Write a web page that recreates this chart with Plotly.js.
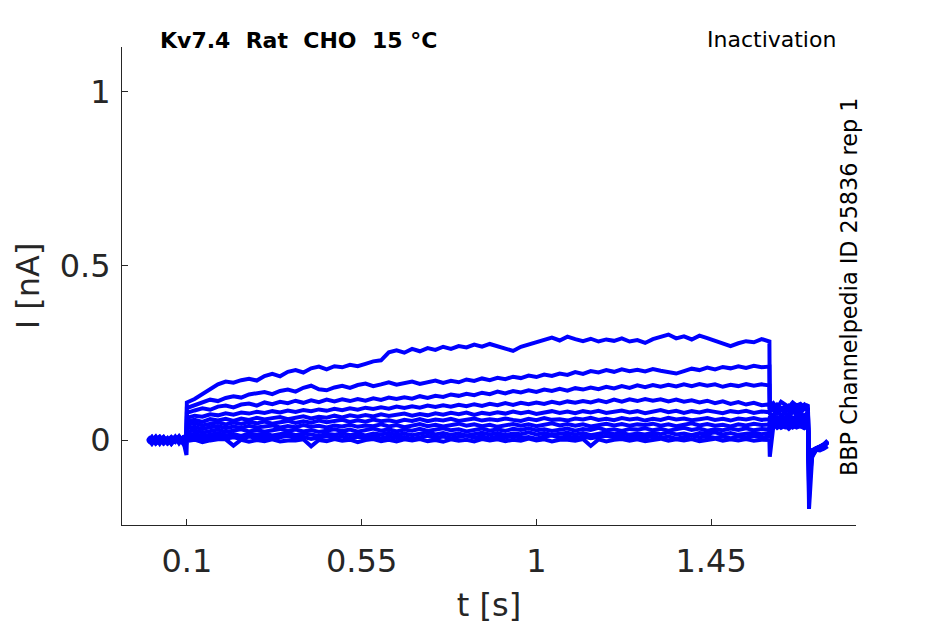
<!DOCTYPE html>
<html>
<head>
<meta charset="utf-8">
<script src="https://cdn.plot.ly/plotly-3.0.1.min.js"></script>
<style>
  html, body { margin: 0; padding: 0; background: #ffffff; }
  #chart { width: 945px; height: 624px; }
</style>
</head>
<body>
<div id="chart"></div>
<script>
// ---------- sample times [s] ----------
const tPre  = [0.000,0.010,0.020,0.030,0.040,0.050,0.060,0.070,0.080,0.090,0.099];
const tStep = [0.10,0.12,0.14,0.16,0.18,0.20,0.22,0.24,0.26,0.28,
               0.30,0.32,0.34,0.36,0.38,0.40,0.42,0.44,0.46,0.48,
               0.50,0.52,0.54,0.56,0.58,0.60,0.62,0.64,0.66,0.68,
               0.70,0.72,0.74,0.76,0.78,0.80,0.82,0.84,0.86,0.88,
               0.90,0.92,0.94,0.96,0.98,1.00,1.02,1.04,1.06,1.08,
               1.10,1.12,1.14,1.16,1.18,1.20,1.22,1.24,1.26,1.28,
               1.30,1.32,1.34,1.36,1.38,1.40,1.42,1.44,1.46,1.48,
               1.50,1.52,1.54,1.56,1.58,1.60];
const tPost = [1.601,1.610,1.620,1.630,1.640,1.650,1.660,1.670,1.680,1.690,1.699];
const tTail = [1.700,1.702,1.705,1.710,1.720,1.730,1.740,1.750];

// ---------- current sweeps [nA] : pre | step | post | tail ----------
const sweep1 = [
  0.006,-0.009,0.003,0.010,-0.005,0.002,-0.011,0.004,0.008,-0.003,0.001,
  0.108,0.118,0.132,0.146,0.160,0.168,0.165,0.172,0.176,0.171,
  0.184,0.190,0.183,0.196,0.201,0.194,0.206,0.211,0.203,0.212,
  0.209,0.216,0.212,0.219,0.226,0.229,0.252,0.258,0.251,0.262,
  0.255,0.264,0.259,0.268,0.262,0.270,0.266,0.274,0.268,0.276,
  0.270,0.262,0.256,0.268,0.275,0.281,0.288,0.294,0.286,0.297,
  0.290,0.284,0.291,0.283,0.289,0.285,0.292,0.283,0.287,0.279,
  0.290,0.296,0.303,0.292,0.298,0.289,0.300,0.293,0.286,0.279,
  0.270,0.278,0.284,0.281,0.290,0.283,
  0.098,0.106,0.092,0.110,0.101,0.095,0.108,0.099,0.104,0.093,0.102,
  0.060,-0.198,-0.120,-0.050,-0.028,-0.022,-0.016,-0.006];
const sweep2 = [
  -0.004,0.008,-0.010,0.001,0.009,-0.006,0.003,-0.001,0.011,-0.007,0.000,
  0.092,0.101,0.108,0.116,0.112,0.121,0.126,0.122,0.131,0.135,
  0.138,0.132,0.141,0.145,0.139,0.150,0.156,0.146,0.143,0.151,
  0.156,0.150,0.158,0.162,0.155,0.160,0.166,0.159,0.163,0.168,
  0.161,0.167,0.171,0.164,0.170,0.166,0.174,0.170,0.177,0.172,
  0.179,0.175,0.182,0.178,0.185,0.181,0.188,0.184,0.191,0.187,
  0.195,0.190,0.198,0.194,0.201,0.196,0.203,0.198,0.202,0.197,
  0.204,0.199,0.195,0.191,0.198,0.205,0.201,0.208,0.203,0.210,
  0.206,0.212,0.207,0.213,0.209,0.211,
  0.092,0.085,0.101,0.090,0.096,0.083,0.099,0.088,0.094,0.102,0.089,
  0.050,-0.170,-0.100,-0.045,-0.030,-0.024,-0.018,-0.008];
const sweep3 = [
  0.003,-0.011,0.005,-0.002,0.008,-0.008,0.000,0.007,-0.006,0.004,-0.002,
  0.078,0.085,0.091,0.087,0.096,0.099,0.094,0.102,0.105,0.099,
  0.108,0.103,0.110,0.106,0.113,0.107,0.114,0.109,0.116,0.111,
  0.117,0.112,0.118,0.113,0.120,0.115,0.122,0.118,0.123,0.119,
  0.126,0.121,0.127,0.124,0.131,0.127,0.133,0.129,0.136,0.132,
  0.139,0.134,0.141,0.137,0.143,0.138,0.145,0.141,0.147,0.142,
  0.149,0.145,0.151,0.146,0.153,0.148,0.155,0.150,0.157,0.152,
  0.158,0.153,0.159,0.154,0.160,0.155,0.161,0.156,0.160,0.153,
  0.159,0.155,0.161,0.156,0.160,0.157,
  0.087,0.095,0.080,0.092,0.084,0.098,0.086,0.090,0.081,0.094,0.088,
  0.045,-0.150,-0.085,-0.040,-0.026,-0.020,-0.012,-0.004];
const sweep4 = [
  0.007,-0.003,0.010,-0.007,0.001,-0.010,0.005,-0.001,0.009,-0.005,0.002,
  0.064,0.070,0.067,0.074,0.071,0.077,0.073,0.079,0.076,0.081,
  0.078,0.083,0.079,0.085,0.081,0.086,0.083,0.088,0.084,0.090,
  0.086,0.091,0.087,0.093,0.089,0.094,0.090,0.096,0.092,0.097,
  0.093,0.099,0.095,0.100,0.096,0.101,0.097,0.103,0.098,0.104,
  0.100,0.106,0.101,0.107,0.103,0.108,0.104,0.110,0.105,0.111,
  0.107,0.112,0.108,0.114,0.109,0.116,0.110,0.117,0.112,0.118,
  0.113,0.117,0.111,0.116,0.110,0.114,0.108,0.113,0.106,0.111,
  0.104,0.109,0.102,0.107,0.100,0.103,
  0.082,0.090,0.076,0.088,0.079,0.093,0.081,0.086,0.077,0.091,0.084,
  0.040,-0.130,-0.075,-0.038,-0.025,-0.021,-0.014,-0.003];
const sweep5 = [
  -0.009,0.002,-0.004,0.009,-0.001,0.004,-0.011,0.003,-0.004,0.007,-0.001,
  0.054,0.058,0.052,0.060,0.056,0.061,0.055,0.062,0.058,0.064,
  0.059,0.063,0.066,0.060,0.065,0.068,0.062,0.067,0.064,0.070,
  0.065,0.071,0.067,0.072,0.068,0.074,0.069,0.073,0.076,0.070,
  0.075,0.071,0.077,0.073,0.078,0.074,0.079,0.072,0.078,0.075,
  0.080,0.076,0.082,0.077,0.081,0.075,0.080,0.083,0.078,0.082,
  0.077,0.083,0.079,0.084,0.078,0.081,0.085,0.079,0.083,0.077,
  0.082,0.086,0.080,0.084,0.078,0.083,0.079,0.085,0.081,0.077,
  0.083,0.080,0.084,0.078,0.082,0.080,
  0.076,0.070,0.083,0.072,0.079,0.068,0.081,0.074,0.077,0.069,0.080,
  0.038,-0.120,-0.070,-0.036,-0.027,-0.023,-0.017,-0.006];
const sweep6 = [
  0.001,-0.007,0.009,-0.002,-0.010,0.004,0.001,-0.006,0.010,-0.001,0.003,
  0.044,0.049,0.042,0.047,0.051,0.045,0.050,0.046,0.052,0.048,
  0.053,0.047,0.051,0.055,0.049,0.054,0.050,0.056,0.051,0.054,
  0.058,0.052,0.057,0.053,0.059,0.054,0.057,0.052,0.058,0.055,
  0.060,0.054,0.059,0.056,0.061,0.055,0.058,0.062,0.056,0.060,
  0.057,0.062,0.058,0.055,0.061,0.057,0.063,0.058,0.060,0.056,
  0.062,0.059,0.064,0.058,0.061,0.057,0.063,0.059,0.062,0.056,
  0.061,0.058,0.064,0.059,0.062,0.057,0.060,0.063,0.058,0.061,
  0.056,0.062,0.059,0.063,0.058,0.060,
  0.066,0.073,0.061,0.070,0.064,0.075,0.062,0.069,0.065,0.071,0.063,
  0.035,-0.100,-0.062,-0.034,-0.024,-0.019,-0.013,-0.002];
const sweep7 = [
  -0.003,0.009,-0.006,0.004,-0.001,-0.009,0.007,-0.004,0.000,0.008,-0.006,
  0.034,0.038,0.031,0.037,0.040,0.034,0.039,0.035,0.041,0.036,
  0.039,0.042,0.036,0.040,0.037,0.043,0.038,0.041,0.036,0.042,
  0.039,0.044,0.038,0.042,0.040,0.045,0.039,0.043,0.037,0.042,
  0.046,0.040,0.044,0.039,0.043,0.047,0.041,0.045,0.040,0.044,
  0.038,0.043,0.046,0.041,0.045,0.040,0.044,0.048,0.042,0.046,
  0.041,0.045,0.039,0.044,0.047,0.042,0.046,0.041,0.045,0.043,
  0.047,0.041,0.045,0.040,0.044,0.048,0.042,0.046,0.041,0.044,
  0.039,0.045,0.042,0.047,0.043,0.045,
  0.058,0.064,0.052,0.061,0.055,0.066,0.054,0.060,0.057,0.063,0.056,
  0.030,-0.090,-0.058,-0.032,-0.026,-0.022,-0.015,-0.005];
const sweep8 = [
  0.009,-0.001,0.004,-0.011,0.006,0.000,-0.004,0.010,-0.007,0.001,-0.004,
  0.024,0.028,0.021,0.026,0.030,0.023,0.027,0.031,0.025,0.029,
  0.024,0.028,0.032,0.026,0.030,0.025,0.029,0.023,0.028,0.031,
  0.026,0.030,0.024,0.029,0.033,0.027,0.031,0.025,0.030,0.027,
  0.032,0.026,0.030,0.034,0.028,0.031,0.025,0.030,0.033,0.027,
  0.031,0.026,0.032,0.029,0.034,0.028,0.031,0.026,0.030,0.033,
  0.027,0.032,0.029,0.035,0.028,0.031,0.026,0.032,0.030,0.034,
  0.028,0.032,0.027,0.031,0.035,0.029,0.033,0.027,0.031,0.028,
  0.033,0.029,0.034,0.028,0.032,0.030,
  0.050,0.056,0.045,0.053,0.047,0.058,0.046,0.052,0.049,0.055,0.048,
  0.028,-0.080,-0.055,-0.031,-0.023,-0.020,-0.014,-0.004];
const sweep9 = [
  -0.007,0.004,0.000,0.007,-0.009,0.002,0.009,-0.003,0.004,-0.010,0.005,
  0.014,0.018,0.011,0.016,0.020,0.013,0.017,0.012,0.019,0.015,
  0.018,0.013,0.017,0.021,0.014,0.019,0.016,0.012,0.018,0.015,
  0.020,0.014,0.018,0.013,0.019,0.016,0.021,0.015,0.019,0.014,
  0.018,0.022,0.016,0.020,0.015,0.019,0.013,0.018,0.021,0.016,
  0.020,0.014,0.019,0.017,0.022,0.016,0.020,0.015,0.018,0.021,
  0.016,0.020,0.014,0.019,0.022,0.017,0.021,0.015,0.019,0.016,
  0.021,0.017,0.022,0.016,0.019,0.014,0.020,0.018,0.022,0.016,
  0.020,0.015,0.019,0.021,0.017,0.020,
  0.046,0.040,0.051,0.043,0.048,0.038,0.050,0.042,0.047,0.039,0.045,
  0.025,-0.075,-0.052,-0.030,-0.025,-0.021,-0.016,-0.007];
const sweep10 = [
  0.004,-0.006,0.007,-0.001,0.006,-0.008,0.002,0.009,-0.009,0.005,-0.002,
  0.005,0.009,0.002,0.007,0.011,0.004,0.008,0.003,0.010,0.006,
  0.009,0.004,0.008,0.012,0.005,0.009,0.003,0.008,0.011,0.006,
  0.010,0.004,0.009,0.007,0.012,0.005,0.010,0.006,0.009,0.003,
  0.008,0.012,0.006,0.010,0.005,0.009,0.013,0.007,0.011,0.005,
  0.010,0.007,0.012,0.006,0.009,0.004,0.010,0.013,0.007,0.011,
  0.006,0.010,0.005,0.009,0.012,0.008,0.011,0.005,0.010,0.007,
  0.012,0.006,0.010,0.004,0.009,0.013,0.008,0.011,0.006,0.010,
  0.005,0.011,0.008,0.012,0.007,0.010,
  0.040,0.046,0.035,0.043,0.037,0.048,0.036,0.042,0.039,0.045,0.038,
  0.022,-0.072,-0.050,-0.029,-0.024,-0.019,-0.013,-0.002];
const sweep11 = [
  -0.006,0.004,-0.010,0.000,-0.004,0.006,-0.009,0.001,-0.003,0.002,-0.043,
  -0.003,0.001,-0.006,-0.001,0.002,0.002,-0.016,0.001,-0.005,0.000,
  -0.003,0.002,-0.004,-0.001,-0.001,0.002,-0.018,0.000,-0.003,0.003,
  -0.002,0.001,-0.006,0.000,0.003,-0.003,0.001,-0.004,0.002,-0.001,
  0.003,-0.003,0.000,-0.005,0.002,-0.002,0.001,-0.004,0.003,-0.001,
  0.002,-0.003,0.001,-0.002,0.004,-0.001,0.002,-0.004,0.001,0.001,
  -0.002,0.003,-0.017,0.002,-0.004,0.001,0.003,-0.002,0.002,-0.003,
  0.001,0.004,-0.002,0.002,-0.001,0.003,-0.003,0.001,0.004,-0.002,
  0.002,-0.001,0.003,-0.002,0.001,0.000,
  -0.048,0.038,0.044,0.035,0.041,0.032,0.043,0.036,0.040,0.034,0.039,
  0.020,-0.070,-0.050,-0.030,-0.028,-0.030,-0.025,-0.018];

// ---------- tick labels & texts ----------
const xTickVals = [0.1, 0.55, 1, 1.45];
const xTickText = ["0.1", "0.55", "1", "1.45"];
const yTickVals = [0, 0.5, 1];
const yTickText = ["0", "0.5", "1"];
const titleText = "<b>Kv7.4\u00a0\u00a0Rat\u00a0\u00a0CHO\u00a0\u00a015\u00a0°C</b>";
const protocolText = "Inactivation";
const sideText = "BBP Channelpedia ID 25836 rep 1";

const time = tPre.concat(tStep, tPost, tTail);
const sweeps = [sweep1, sweep2, sweep3, sweep4, sweep5, sweep6,
                sweep7, sweep8, sweep9, sweep10, sweep11];

const data = sweeps.map(function (s) {
  return {
    x: time, y: s, type: "scatter", mode: "lines",
    line: { color: "#0000ff", width: 4 },
    hoverinfo: "skip", showlegend: false
  };
});

const FONT = "DejaVu Sans, Liberation Sans, sans-serif";
const INK = "#262626";

const layout = {
  width: 945, height: 624,
  margin: { l: 122, r: 89, t: 47, b: 99, pad: 0 },
  paper_bgcolor: "#ffffff", plot_bgcolor: "#ffffff",
  font: { family: FONT, color: INK },
  showlegend: false,
  xaxis: {
    range: [-0.067, 1.823],
    tickmode: "array", tickvals: xTickVals, ticktext: xTickText,
    ticks: "inside", ticklen: 6, tickwidth: 1, tickcolor: INK,
    showline: true, linecolor: INK, linewidth: 1, mirror: false,
    showgrid: false, zeroline: false, ticklabelstandoff: 8,
    tickfont: { family: FONT, size: 32, color: INK },
    title: { text: "t [s]", font: { family: FONT, size: 32, color: INK }, standoff: 14 }
  },
  yaxis: {
    range: [-0.244, 1.129],
    tickmode: "array", tickvals: yTickVals, ticktext: yTickText,
    ticks: "inside", ticklen: 6, tickwidth: 1, tickcolor: INK,
    showline: true, linecolor: INK, linewidth: 1, mirror: false,
    showgrid: false, zeroline: false, ticklabelstandoff: 4,
    tickfont: { family: FONT, size: 32, color: INK },
    title: { text: "I [nA]", font: { family: FONT, size: 32, color: INK }, standoff: 10 }
  },
  annotations: [
    { xref: "paper", yref: "paper", x: 0.0484, y: 1.0146, xanchor: "left", yanchor: "middle",
      text: titleText, showarrow: false, font: { family: FONT, size: 22, color: "#000000" } },
    { xref: "paper", yref: "paper", x: 0.9755, y: 1.0167, xanchor: "right", yanchor: "middle",
      text: protocolText, showarrow: false, font: { family: FONT, size: 22, color: "#000000" } },
    { xref: "paper", yref: "paper", x: 0.9905, y: 0.498, xanchor: "center", yanchor: "middle",
      text: sideText, textangle: -90, showarrow: false,
      font: { family: FONT, size: 22.3, color: "#000000" } }
  ]
};

Plotly.newPlot("chart", data, layout, { staticPlot: true, displayModeBar: false });
</script>
</body>
</html>
